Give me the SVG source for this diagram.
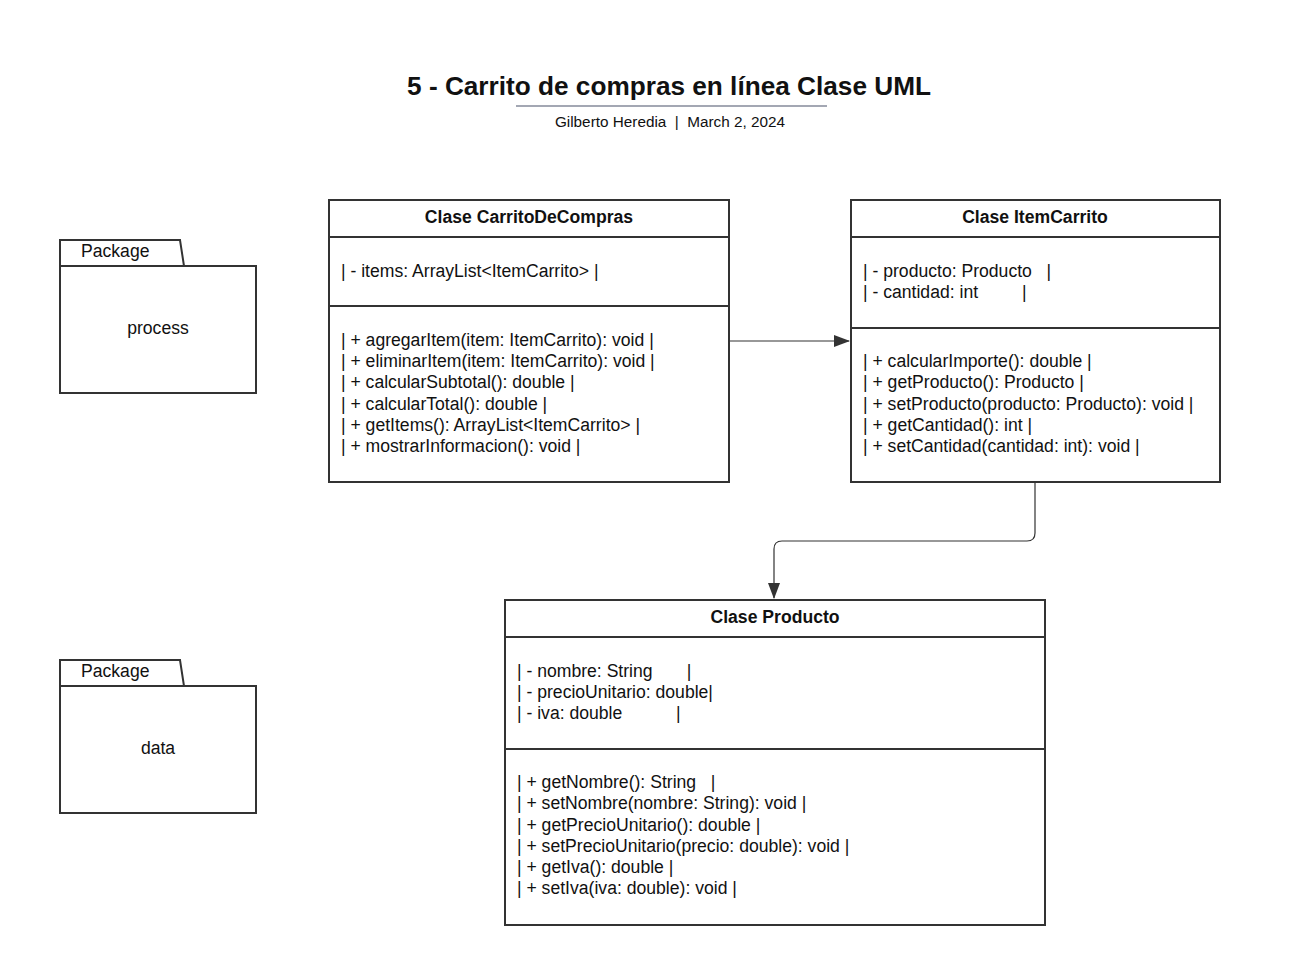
<svg xmlns="http://www.w3.org/2000/svg" width="1291" height="973" viewBox="0 0 1291 973">
<style>
text{font-family:"Liberation Sans",Arial,sans-serif;fill:#111;white-space:pre}
.t{font-size:17.6px}
.h{font-size:17.6px;font-weight:bold;text-anchor:middle}
.c{text-anchor:middle}
.box{fill:#fff;stroke:#333;stroke-width:2}
.ln{stroke:#333;stroke-width:2;fill:none}
.conn{fill:none;stroke:#333;stroke-width:1.2}
</style>
<defs>
<marker id="arr" markerWidth="16" markerHeight="12" refX="15" refY="6" orient="auto" markerUnits="userSpaceOnUse">
<path d="M0,0 L16,6 L0,12 Z" fill="#333"/>
</marker>
</defs>
<rect width="1291" height="973" fill="#fff"/>
<g id="title">
<text x="669" y="95" style="font-size:26.2px;font-weight:bold" text-anchor="middle">5 - Carrito de compras en línea Clase UML</text>
<line x1="516" y1="106" x2="827" y2="106" stroke="#a3a7b3" stroke-width="2"/>
<text x="670" y="127" style="font-size:15.3px" text-anchor="middle" xml:space="preserve">Gilberto Heredia  |  March 2, 2024</text>
</g>
<g id="pkg-process">
<path class="box" d="M60,266 L60,240 L180,240 L184,266 Z"/>
<rect class="box" x="60" y="266" width="196" height="127"/>
<text class="t" x="81" y="257">Package</text>
<text class="t c" x="158" y="334">process</text>
</g>
<g id="pkg-data">
<path class="box" d="M60,686 L60,660 L180,660 L184,686 Z"/>
<rect class="box" x="60" y="686" width="196" height="127"/>
<text class="t" x="81" y="677">Package</text>
<text class="t c" x="158" y="754">data</text>
</g>
<g id="carrito">
<rect class="box" x="329" y="200" width="400" height="282"/>
<line class="ln" x1="329" y1="237" x2="729" y2="237"/>
<line class="ln" x1="329" y1="306" x2="729" y2="306"/>
<text class="h" x="529" y="223">Clase CarritoDeCompras</text>
<text class="t" x="341" y="277">| - items: ArrayList&lt;ItemCarrito&gt; |</text>
<text class="t" x="341" y="346">| + agregarItem(item: ItemCarrito): void |</text>
<text class="t" x="341" y="367">| + eliminarItem(item: ItemCarrito): void |</text>
<text class="t" x="341" y="388">| + calcularSubtotal(): double |</text>
<text class="t" x="341" y="410">| + calcularTotal(): double |</text>
<text class="t" x="341" y="431">| + getItems(): ArrayList&lt;ItemCarrito&gt; |</text>
<text class="t" x="341" y="452">| + mostrarInformacion(): void |</text>
</g>
<g id="itemcarrito">
<rect class="box" x="851" y="200" width="369" height="282"/>
<line class="ln" x1="851" y1="237" x2="1220" y2="237"/>
<line class="ln" x1="851" y1="328" x2="1220" y2="328"/>
<text class="h" x="1035" y="223">Clase ItemCarrito</text>
<text class="t" x="863" y="277" xml:space="preserve">| - producto: Producto   |</text>
<text class="t" x="863" y="298" xml:space="preserve">| - cantidad: int         |</text>
<text class="t" x="863" y="367">| + calcularImporte(): double |</text>
<text class="t" x="863" y="388">| + getProducto(): Producto |</text>
<text class="t" x="863" y="410">| + setProducto(producto: Producto): void |</text>
<text class="t" x="863" y="431">| + getCantidad(): int |</text>
<text class="t" x="863" y="452">| + setCantidad(cantidad: int): void |</text>
</g>
<g id="producto">
<rect class="box" x="505" y="600" width="540" height="325"/>
<line class="ln" x1="505" y1="637" x2="1045" y2="637"/>
<line class="ln" x1="505" y1="749" x2="1045" y2="749"/>
<text class="h" x="775" y="623">Clase Producto</text>
<text class="t" x="517" y="677" xml:space="preserve">| - nombre: String       |</text>
<text class="t" x="517" y="698">| - precioUnitario: double|</text>
<text class="t" x="517" y="719" xml:space="preserve">| - iva: double           |</text>
<text class="t" x="517" y="788" xml:space="preserve">| + getNombre(): String   |</text>
<text class="t" x="517" y="809">| + setNombre(nombre: String): void |</text>
<text class="t" x="517" y="831">| + getPrecioUnitario(): double |</text>
<text class="t" x="517" y="852">| + setPrecioUnitario(precio: double): void |</text>
<text class="t" x="517" y="873">| + getIva(): double |</text>
<text class="t" x="517" y="894">| + setIva(iva: double): void |</text>
</g>
<g id="connectors">
<path class="conn" d="M730,341 L849,341" marker-end="url(#arr)"/>
<path class="conn" d="M1035,483 L1035,533 Q1035,541 1027,541 L782,541 Q774,541 774,549 L774,598" stroke="#777" marker-end="url(#arr)"/>
</g>
</svg>
